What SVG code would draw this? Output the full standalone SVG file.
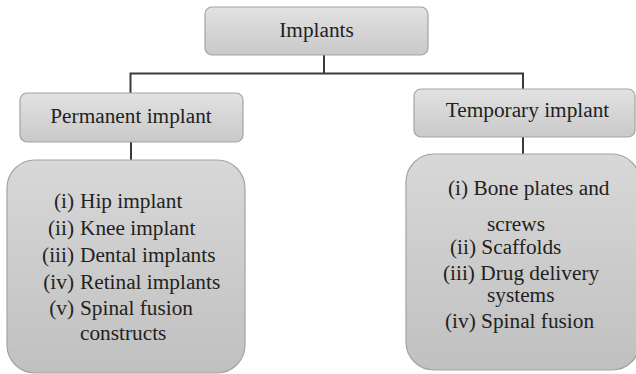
<svg xmlns="http://www.w3.org/2000/svg" width="636" height="374" viewBox="0 0 636 374">
<defs>
<linearGradient id="g1" x1="0" y1="0" x2="0" y2="1">
<stop offset="0" stop-color="#e2e2e3"/>
<stop offset="1" stop-color="#c9c9ca"/>
</linearGradient>
<linearGradient id="g2" x1="0" y1="0" x2="0" y2="1">
<stop offset="0" stop-color="#d8d8d9"/>
<stop offset="1" stop-color="#c0c0c1"/>
</linearGradient>
</defs>
<style>
.hb{fill:url(#g1);stroke:#a3a3a4;stroke-width:1.2}
.lb{fill:url(#g2);stroke:#a3a3a4;stroke-width:1.2}
.c{fill:none;stroke:#3a3a3a;stroke-width:2}
text{font-family:"Liberation Serif","Times New Roman",serif;font-size:21.3px;fill:#231f20}
.m{text-anchor:middle}
.e{text-anchor:end}
</style>
<g id="connectors">
<path class="c" d="M324 55 V73.5"/>
<path class="c" d="M130.5 93 V73.5 H523 V89"/>
<path class="c" d="M131 142 V160"/>
<path class="c" d="M523 137 V154"/>
</g>
<g id="implants">
<rect class="hb" x="205" y="7" width="223" height="48" rx="7"/>
<text class="m" x="316.5" y="37">Implants</text>
</g>
<g id="permanent">
<rect class="hb" x="20" y="93" width="223" height="49" rx="7"/>
<text class="m" x="131" y="123">Permanent implant</text>
</g>
<g id="temporary">
<rect class="hb" x="414" y="89" width="221" height="48" rx="7"/>
<text class="m" x="527.5" y="117">Temporary implant</text>
</g>
<g id="permanent-list">
<rect class="lb" x="7" y="160" width="238" height="213" rx="28"/>
<text class="e" x="74" y="208">(i)</text><text x="80" y="208">Hip implant</text>
<text class="e" x="74" y="235">(ii)</text><text x="80" y="235">Knee implant</text>
<text class="e" x="74" y="262">(iii)</text><text x="80" y="262">Dental implants</text>
<text class="e" x="74" y="289">(iv)</text><text x="80" y="289">Retinal implants</text>
<text class="e" x="74" y="315">(v)</text><text x="80" y="315">Spinal fusion</text>
<text x="80" y="340">constructs</text>
</g>
<g id="temporary-list">
<rect class="lb" x="406" y="154" width="234" height="216" rx="28"/>
<text x="448" y="195">(i) Bone plates and</text>
<text x="487" y="231">screws</text>
<text x="450" y="254">(ii) Scaffolds</text>
<text x="443" y="280">(iii) Drug delivery</text>
<text x="487" y="302">systems</text>
<text x="445" y="328">(iv) Spinal fusion</text>
</g>
</svg>
